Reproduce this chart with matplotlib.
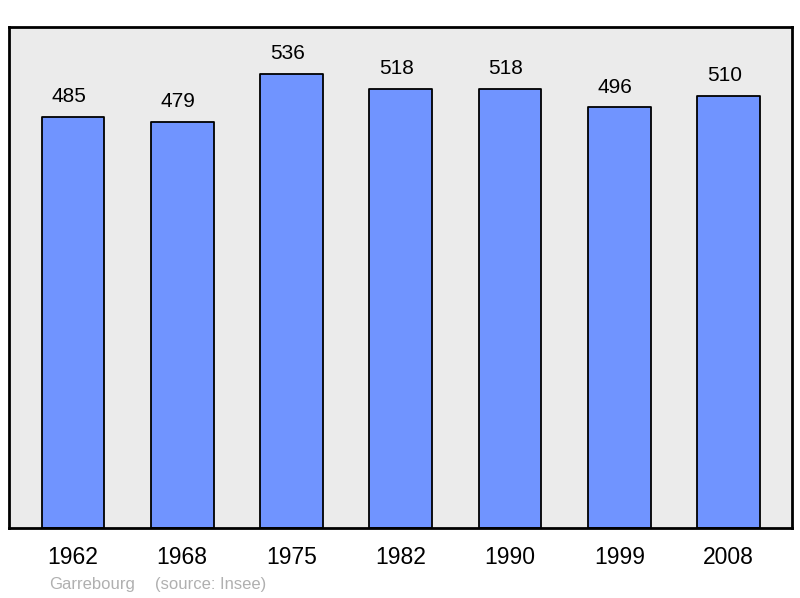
import matplotlib.pyplot as plt

plt.rcParams["font.family"] = ["Liberation Sans", "DejaVu Sans"]

# Population de Garrebourg par recensement
years = ["1962", "1968", "1975", "1982", "1990", "1999", "2008"]
population = [485, 479, 536, 518, 518, 496, 510]

fig = plt.figure(figsize=(8, 5.98), dpi=100)
ax = fig.add_axes([0.01125, 0.117, 0.97875, 0.838])
ax.set_facecolor("#ebebeb")

positions = range(len(years))
bars = ax.bar(positions, population, width=0.575, color="#7094ff",
              edgecolor="black", linewidth=1.3, joinstyle="round")

for bar, value in zip(bars, population):
    ax.annotate(str(value), (bar.get_x() + bar.get_width() / 2, bar.get_height()),
                xytext=(-3, 7.5), textcoords="offset points",
                ha="center", va="bottom", fontsize=15)

ax.set_xlim(-0.585, 6.58)
ax.set_ylim(0, 591)
ax.set_xticks(list(positions))
ax.set_xticklabels(years, fontsize=16.5)
ax.tick_params(axis="x", length=0, pad=13)
ax.set_yticks([])
for spine in ax.spines.values():
    spine.set_linewidth(2)
    spine.set_joinstyle("round")

fig.text(0.061, 0.010, "Garrebourg", color="#b0b0b0",
         fontsize=12, ha="left", va="bottom")
fig.text(0.194, 0.010, "(source: Insee)", color="#b0b0b0",
         fontsize=12, ha="left", va="bottom")

fig.savefig("out.png", dpi=100)
